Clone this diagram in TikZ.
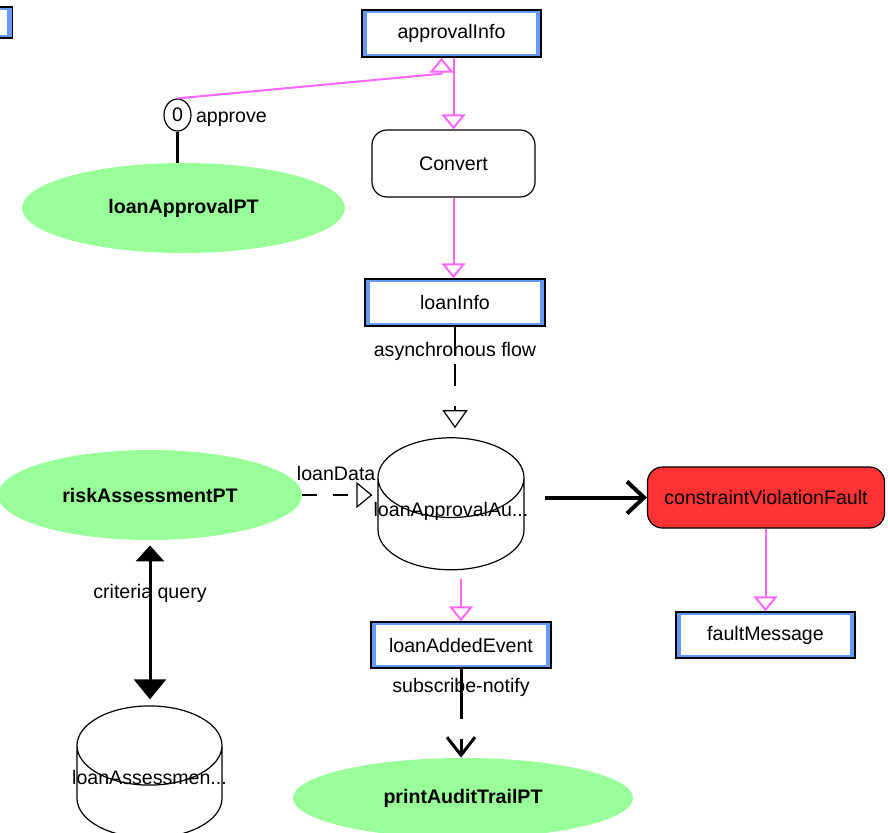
\documentclass[tikz,border=0pt]{standalone}
\usepackage{fontspec}
\setmainfont{Liberation Sans}
\usepackage{tikz}
\usetikzlibrary{positioning,arrows.meta,shapes.geometric,calc}
\definecolor{msgblue}{HTML}{6699FF}
\definecolor{ptgreen}{HTML}{99FF99}
\definecolor{faultred}{HTML}{FF3333}
\definecolor{flowpink}{HTML}{FF66FF}
\newcommand{\lblfont}{\fontsize{9.8}{11}\selectfont}
% store text: fixed width (sets the cylinder radius), lifted above the centre
\newcommand{\storetext}[2]{\makebox[#1]{\raisebox{3.75pt}[0pt][0pt]{#2}}}
\tikzset{
  msgbox/.style  ={rectangle, draw=black, line width=0.7pt, fill=msgblue, minimum width=89.5pt,
                   minimum height=23.5pt, inner sep=0pt, font=\lblfont,
                   path picture={\fill[white]
                     ([shift={(2.5pt,1.7pt)}]path picture bounding box.south west) rectangle
                     ([shift={(-2.5pt,-1.7pt)}]path picture bounding box.north east);}},
  ptnode/.style  ={ellipse, fill=ptgreen, inner sep=0pt, font=\lblfont\bfseries},
  store/.style   ={cylinder, shape border rotate=90, aspect=0.546, draw=black, line width=0.6pt,
                   fill=white, inner sep=0pt, font=\lblfont, minimum height=66pt},
  procbox/.style ={rectangle, rounded corners=7.5pt, draw=black, line width=0.6pt,
                   font=\lblfont, inner sep=0pt},
  opnode/.style  ={ellipse, draw=black, line width=0.6pt, fill=white, inner sep=0pt, font=\lblfont,
                   minimum width=13.5pt, minimum height=16pt},
  lbl/.style     ={font=\lblfont, inner sep=1pt},
  pinkarr/.style ={draw=flowpink, line width=1pt, -{Triangle[open, length=7.5pt, width=12pt]}},
  asyncarr/.style={draw=black, line width=0.6pt, dash pattern=on 14.5pt off 4pt on 11pt off 10pt,
                   -{Triangle[open, length=9pt, width=12.5pt]}},
  dataarr/.style ={draw=black, line width=0.6pt, dash pattern=on 7.5pt off 8pt,
                   -{Triangle[open, length=8pt, width=13pt]}},
  faultarr/.style={draw=black, line width=2pt, -{Straight Barb[length=8.5pt, width=16pt]}},
  notifyarr/.style={draw=black, line width=1.5pt, dash pattern=on 25pt off 10pt,
                   -{Straight Barb[length=9pt, width=14pt]}},
  queryarr/.style={draw=black, line width=1.5pt,
                   {Triangle[length=8pt, width=14pt]}-{Triangle[length=10pt, width=16pt]}},
  linkline/.style={draw=black, line width=1.5pt},
}

\begin{document}
\begin{tikzpicture}[x=0.5pt, y=-0.5pt]
  \useasboundingbox (0,0) rectangle (888,832);
  % message boxes
  \node[msgbox, minimum width=40pt, minimum height=15.5pt, anchor=east] (cutbox) at (13,22.5) {};
  \node[msgbox] (approvalInfo) at (451.5,33.5) {approvalInfo};
  \node[msgbox, minimum width=90pt] (loanInfo) at (455,302.5) {loanInfo};
  \node[msgbox, minimum width=90pt, minimum height=23pt] (loanAddedEvent) at (461,645) {loanAddedEvent};
  \node[msgbox, minimum height=23pt] (faultMessage) at (765.5,635) {faultMessage};
  % processes and faults
  \node[procbox, minimum width=81.5pt, minimum height=33.5pt] (Convert) at (453.5,163.5) {Convert};
  \node[procbox, fill=faultred, minimum width=118.5pt, minimum height=30.5pt]
    (constraintViolationFault) at (766,497.5) {constraintViolationFault};
  % port types
  \node[ptnode, minimum width=161.5pt, minimum height=45pt] (loanApprovalPT) at (183.5,208) {loanApprovalPT};
  \node[ptnode, minimum width=152pt, minimum height=45pt] (riskAssessmentPT) at (150,495) {riskAssessmentPT};
  \node[ptnode, minimum width=170pt, minimum height=40pt] (printAuditTrailPT) at (463,798) {printAuditTrailPT};
  % operation
  \node[opnode] (zero) at (177.5,115) {0};
  \node[lbl, right=1pt of zero, yshift=-2pt] (approve) {approve};
  % stores
  \node[store] (loanStore) at (451,524) {\storetext{73pt}{loanApprovalAu...}};
  \node[store] (assessStore) at (149.5,792) {\storetext{72.5pt}{loanAssessmen...}};

  % connectors
  \draw[pinkarr] (zero.north) -- ($(approvalInfo.south)+(-10,16)$) -- ($(approvalInfo.south)+(-10,0)$);
  \draw[linkline] (zero.south) -- (zero.south |- loanApprovalPT.north);
  \draw[pinkarr] (Convert.north |- approvalInfo.south) -- (Convert.north);
  \draw[pinkarr] (Convert.south) -- (Convert.south |- loanInfo.north);
  \draw[asyncarr, shorten >=4.5pt] (loanInfo.south) -- (loanInfo.south |- loanStore.north)
    node[lbl, pos=0.22] (asyncLabel) {asynchronous flow};
  \draw[dataarr, shorten >=2.5pt] (riskAssessmentPT.east) -- (riskAssessmentPT.east -| loanStore.west)
    node[lbl, pos=0.45, above=6pt] (dataLabel) {loanData};
  \draw[faultarr, shorten <=10pt] (loanStore.east |- constraintViolationFault.west) -- (constraintViolationFault.west);
  \draw[pinkarr] (constraintViolationFault.south -| faultMessage.north) -- (faultMessage.north);
  \draw[pinkarr, shorten <=4.5pt] (loanAddedEvent.north |- loanStore.south) -- (loanAddedEvent.north);
  \draw[notifyarr] (loanAddedEvent.south) -- (loanAddedEvent.south |- printAuditTrailPT.north)
    node[lbl, pos=0.21] (notifyLabel) {subscribe-notify};
  \draw[queryarr, shorten <=2.5pt, shorten >=3pt] (riskAssessmentPT.south) -- (riskAssessmentPT.south |- assessStore.north)
    node[lbl, pos=0.32] (queryLabel) {criteria query};
\end{tikzpicture}
\end{document}
